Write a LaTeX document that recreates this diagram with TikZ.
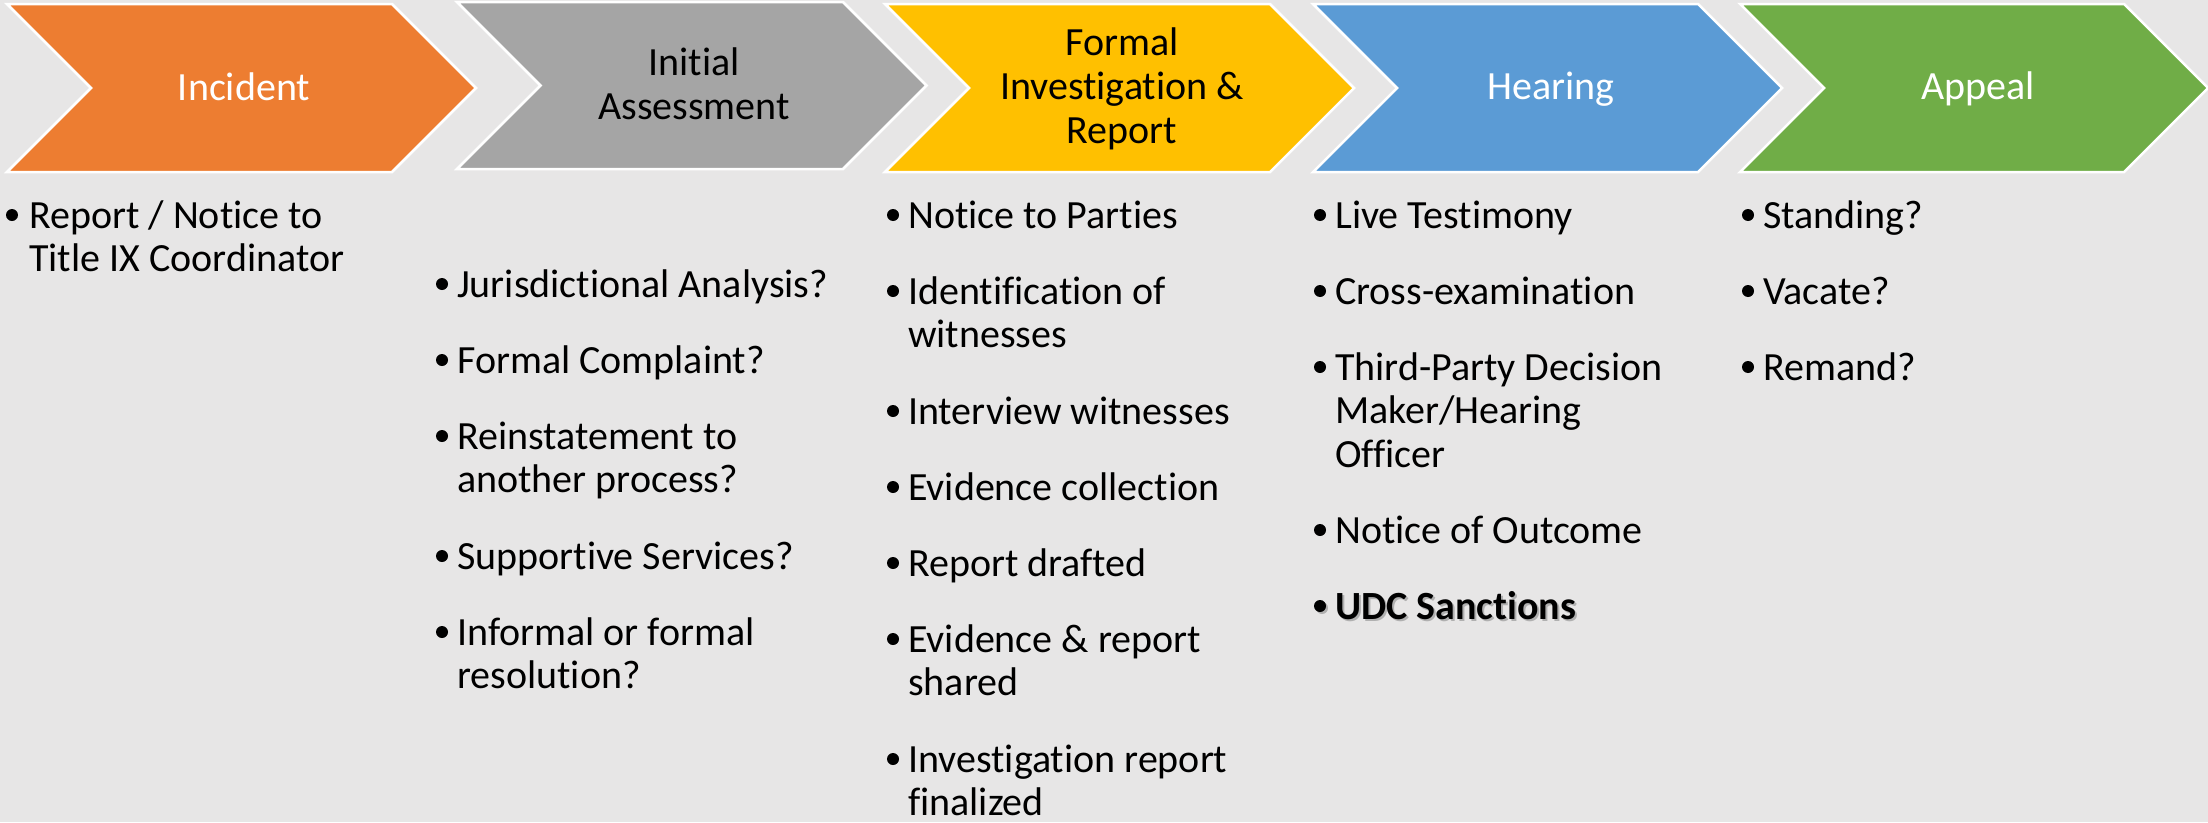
\documentclass[tikz,border=0pt]{standalone}
\usepackage{fontspec}
\setmainfont{Carlito}[Ligatures={NoCommon}]
\definecolor{bgc}{HTML}{E7E6E6}
\definecolor{corange}{HTML}{ED7D31}
\definecolor{cgray}{HTML}{A5A5A5}
\definecolor{cyellow}{HTML}{FFC000}
\definecolor{cblue}{HTML}{5B9BD5}
\definecolor{cgreen}{HTML}{70AD47}
\newcommand\stk[1]{\vtop{\baselineskip=43.6pt\lineskiplimit=-100pt\halign{##\hfil\cr#1\crcr}}}
\newcommand\cstk[1]{\vtop{\baselineskip=44pt\lineskiplimit=-100pt\halign{\hfil##\hfil\cr#1\crcr}}}
\newcommand\chevron[5]{%
  \filldraw[chev, fill=#1] (#2,#4) -- (#3,#4) -- ({#3+(#5-#4)/2},{(#4+#5)/2}) -- (#3,#5) -- (#2,#5) -- ({#2+(#5-#4)/2},{(#4+#5)/2}) -- cycle;}
\tikzset{
  chev/.style={draw=white, line width=2.5pt, line join=miter},
  hdr/.style={anchor=base, inner sep=0pt, font=\fontsize{40}{44}\selectfont},
  itm/.style={anchor=base west, inner sep=0pt, font=\fontsize{40}{43.6}\selectfont},
  dot/.style={circle, fill=black, inner sep=0pt, minimum size=12pt}
}
\begin{document}
\begin{tikzpicture}[x=1pt,y=-1pt]
\fill[bgc] (0,0) rectangle (2208,822);
\useasboundingbox (0,0) rectangle (2208,822);

% chevrons
\chevron{corange}{7}{392}{4}{172}
\chevron{cgray}{457}{843}{2}{169}
\chevron{cyellow}{885}{1270}{4}{172}
\chevron{cblue}{1313}{1698}{4}{172}
\chevron{cgreen}{1740}{2124}{4}{172}

% headers
\node[hdr, text=white] (h1) at (244,100) {Incident};
\node[hdr, text=black] (h2) at (694,75) {\cstk{Initial\cr Assessment}};
\node[hdr, text=black] (h3) at (1122,55) {\cstk{Formal\cr Investigation \&\cr Report}};
\node[hdr, text=white] (h4) at (1551,99) {Hearing};
\node[hdr, text=white] (h5) at (1978,99) {Appeal};

% column 1
\node[dot] (b11) at (12,215) {};
\node[itm] (t11) at (29,228) {\stk{Report / Notice to\cr Title IX Coordinator}};

% column 2
\node[dot] (b21) at (442,284) {};
\node[itm] (t21) at (457,297) {\stk{Jurisdictional Analysis?}};
\node[dot] (b22) at (442,360) {};
\node[itm] (t22) at (457,373) {\stk{Formal Complaint?}};
\node[dot] (b23) at (442,436) {};
\node[itm] (t23) at (457,449) {\stk{Reinstatement to\cr another process?}};
\node[dot] (b24) at (442,556) {};
\node[itm] (t24) at (457,569) {\stk{Supportive Services?}};
\node[dot] (b25) at (442,632) {};
\node[itm] (t25) at (457,645) {\stk{Informal or formal\cr resolution?}};

% column 3
\node[dot] (b31) at (893,215) {};
\node[itm] (t31) at (908,228) {\stk{Notice to Parties}};
\node[dot] (b32) at (893,291) {};
\node[itm] (t32) at (908,304) {\stk{Identification of\cr witnesses}};
\node[dot] (b33) at (893,411) {};
\node[itm] (t33) at (908,424) {\stk{Interview witnesses}};
\node[dot] (b34) at (893,487) {};
\node[itm] (t34) at (908,500) {\stk{Evidence collection}};
\node[dot] (b35) at (893,563) {};
\node[itm] (t35) at (908,576) {\stk{Report drafted}};
\node[dot] (b36) at (893,639) {};
\node[itm] (t36) at (908,652) {\stk{Evidence \& report\cr shared}};
\node[dot] (b37) at (893,759) {};
\node[itm] (t37) at (908,772) {\stk{Investigation report\cr finalized}};

% column 4
\node[dot] (b41) at (1320,215) {};
\node[itm] (t41) at (1335,228) {\stk{Live Testimony}};
\node[dot] (b42) at (1320,291) {};
\node[itm] (t42) at (1335,304) {\stk{Cross-examination}};
\node[dot] (b43) at (1320,367) {};
\node[itm] (t43) at (1335,380) {\stk{Third-Party Decision\cr Maker/Hearing\cr Officer}};
\node[dot] (b44) at (1320,530) {};
\node[itm] (t44) at (1335,543) {\stk{Notice of Outcome}};
\node[dot] (b45s) at (1322,608) [fill=black!45, opacity=0.6] {};
\node[dot] (b45) at (1320,606) {};
\node[itm, text=black!45, opacity=0.6] (t45s) at (1337,621) {\bfseries UDC Sanctions};
\node[itm] (t45) at (1335,619) {\bfseries UDC Sanctions};

% column 5
\node[dot] (b51) at (1748,215) {};
\node[itm] (t51) at (1763,228) {\stk{Standing?}};
\node[dot] (b52) at (1748,291) {};
\node[itm] (t52) at (1763,304) {\stk{Vacate?}};
\node[dot] (b53) at (1748,367) {};
\node[itm] (t53) at (1763,380) {\stk{Remand?}};
\end{tikzpicture}
\end{document}
